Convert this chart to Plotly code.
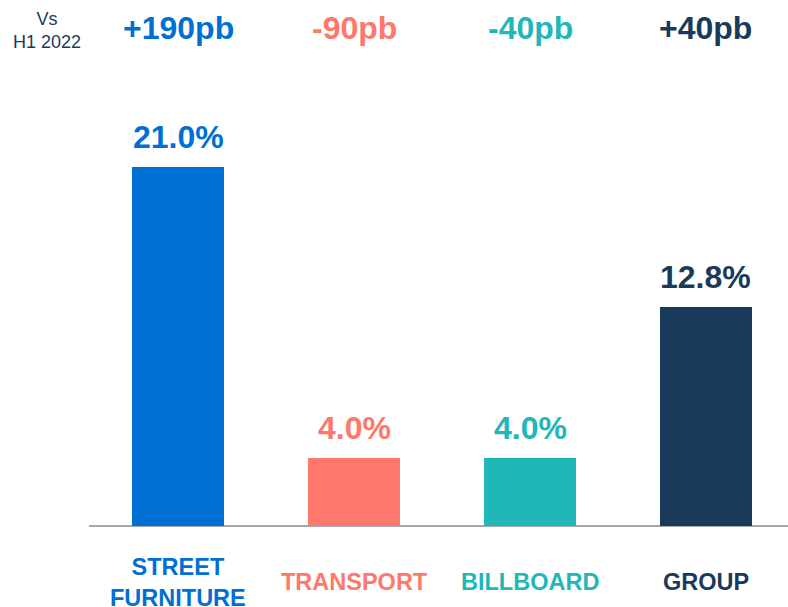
import plotly.graph_objects as go

categories = ["STREET<br>FURNITURE", "TRANSPORT", "BILLBOARD", "GROUP"]
values = [21.0, 4.0, 4.0, 12.8]
value_labels = ["21.0%", "4.0%", "4.0%", "12.8%"]
change_labels = ["+190pb", "-90pb", "-40pb", "+40pb"]
colors = ["#006FD3", "#FF786B", "#21B7B9", "#1A3A5C"]

xs = list(range(len(categories)))
fig = go.Figure()
fig.add_trace(go.Bar(x=xs, y=values, marker=dict(color=colors, line=dict(width=0)),
                     width=0.523, hoverinfo="skip"))

font_family = "Liberation Sans, Arial, sans-serif"
annotations = []
for i, (v, lab, ch, c, cat) in enumerate(zip(values, value_labels, change_labels, colors, categories)):
    annotations.append(dict(x=i, y=v, xref="x", yref="y", text="<b>%s</b>" % lab,
                            showarrow=False, yanchor="bottom", yshift=10,
                            font=dict(family=font_family, size=32, color=c)))
    annotations.append(dict(x=i, y=1, xref="x", yref="paper", text="<b>%s</b>" % ch,
                            showarrow=False, yanchor="middle", yshift=-28,
                            font=dict(family=font_family, size=32, color=c)))
    annotations.append(dict(x=i, y=-0.1065, xref="x", yref="paper", text="<b>%s</b>" % cat,
                            showarrow=False, yanchor="middle",
                            font=dict(family=font_family, size=23.5, color=c)))
annotations.append(dict(x=(47 - 89) / (788 - 89), y=1, xref="paper", yref="paper",
                        text="Vs<br>H1 2022", showarrow=False, xanchor="center",
                        yanchor="middle", yshift=-30,
                        font=dict(family=font_family, size=18, color="#1A3A5C")))

fig.update_layout(
    width=788, height=607,
    margin=dict(l=89, r=0, t=0, b=81, autoexpand=False),
    paper_bgcolor="white", plot_bgcolor="white",
    showlegend=False,
    xaxis=dict(range=[-0.506, 3.466], showticklabels=False, showgrid=False, zeroline=False,
               showline=False, ticks=""),
    yaxis=dict(range=[0, 30.76], showticklabels=False, showgrid=False, zeroline=True,
               zerolinecolor="#A4A8B0", zerolinewidth=2, showline=False),
    annotations=annotations,
    bargap=0,
)
fig.write_html("out.html", config={"displayModeBar": False},
               post_script="document.body.style.margin='0px';")
